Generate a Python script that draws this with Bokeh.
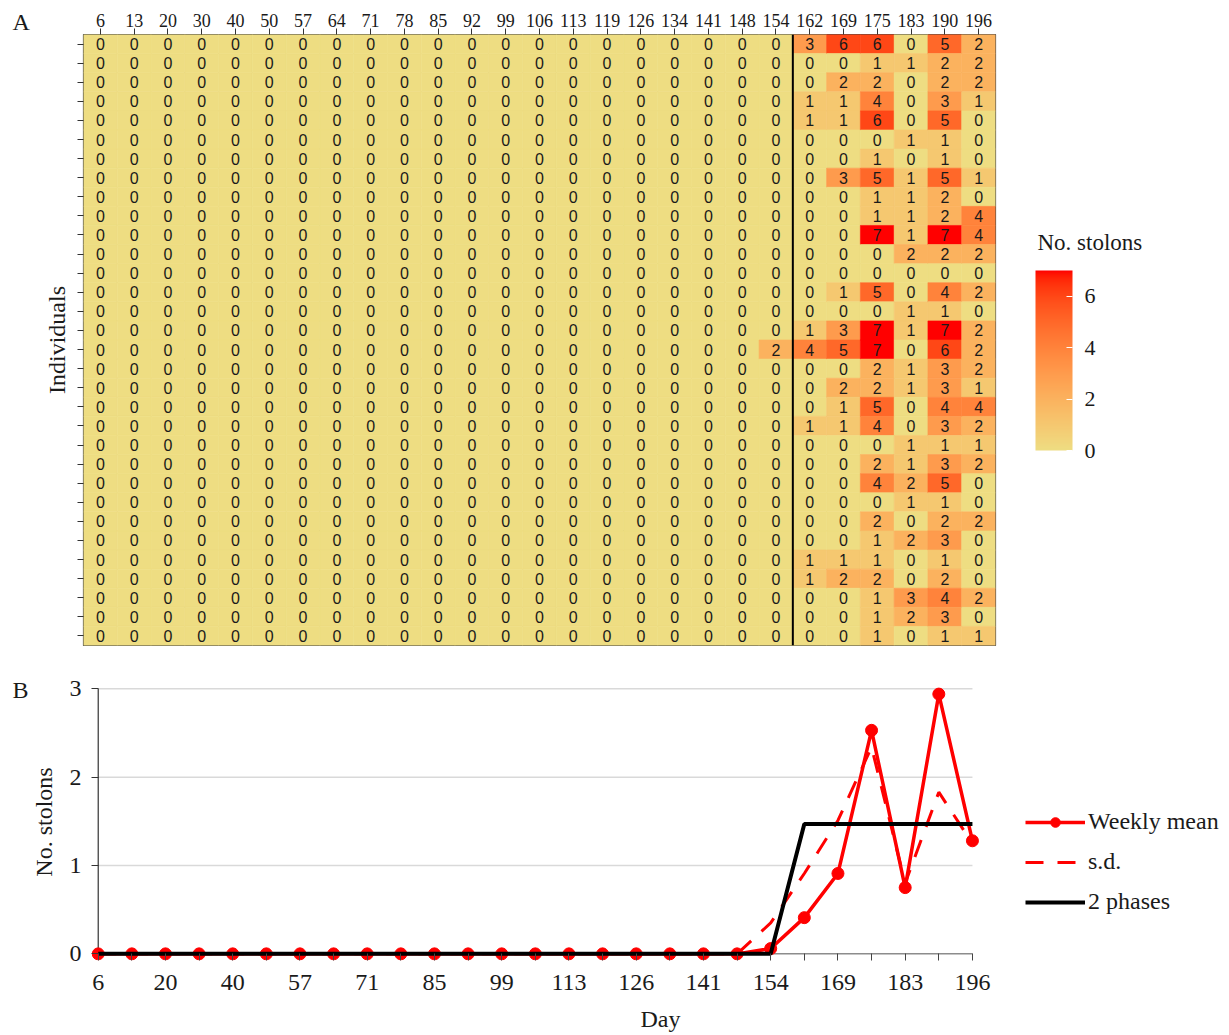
import numpy as np
from bokeh.plotting import figure
from bokeh.models import (FactorRange, Range1d, LinearColorMapper, ColorBar,
                          FixedTicker, Span, Label, Legend, LegendItem, ColumnDataSource)
from bokeh.embed import file_html
from bokeh.resources import INLINE
from bokeh.core.properties import value

# ---------------- data ----------------
days = ["6", "13", "20", "30", "40", "50", "57", "64", "71", "78", "85", "92", "99",
        "106", "113", "119", "126", "134", "141", "148", "154", "162", "169", "175",
        "183", "190", "196"]
individuals = list(range(1, 33))

# days 6 .. 148: every individual has 0 stolons
zero_column = [0] * 32
day_154 = [0, 0, 0, 0, 0, 0, 0, 0, 0, 0, 0, 0, 0, 0, 0, 0, 2, 0, 0, 0, 0, 0, 0, 0, 0, 0, 0, 0, 0, 0, 0, 0]
day_162 = [3, 0, 0, 1, 1, 0, 0, 0, 0, 0, 0, 0, 0, 0, 0, 1, 4, 0, 0, 0, 1, 0, 0, 0, 0, 0, 0, 1, 1, 0, 0, 0]
day_169 = [6, 0, 2, 1, 1, 0, 0, 3, 0, 0, 0, 0, 0, 1, 0, 3, 5, 0, 2, 1, 1, 0, 0, 0, 0, 0, 0, 1, 2, 0, 0, 0]
day_175 = [6, 1, 2, 4, 6, 0, 1, 5, 1, 1, 7, 0, 0, 5, 0, 7, 7, 2, 2, 5, 4, 0, 2, 4, 0, 2, 1, 1, 2, 1, 1, 1]
day_183 = [0, 1, 0, 0, 0, 1, 0, 1, 1, 1, 1, 2, 0, 0, 1, 1, 0, 1, 1, 0, 0, 1, 1, 2, 1, 0, 2, 0, 0, 3, 2, 0]
day_190 = [5, 2, 2, 3, 5, 1, 1, 5, 2, 2, 7, 2, 0, 4, 1, 7, 6, 3, 3, 4, 3, 1, 3, 5, 1, 2, 3, 1, 2, 4, 3, 1]
day_196 = [2, 2, 2, 1, 0, 0, 0, 1, 0, 4, 4, 2, 0, 2, 0, 2, 2, 2, 1, 4, 2, 1, 2, 0, 0, 2, 0, 0, 0, 2, 0, 1]

weekly_mean = [0, 0, 0, 0, 0, 0, 0, 0, 0, 0, 0, 0, 0, 0, 0, 0, 0, 0, 0, 0,
               0.06, 0.41, 0.91, 2.53, 0.75, 2.94, 1.28]
weekly_sd = [0, 0, 0, 0, 0, 0, 0, 0, 0, 0, 0, 0, 0, 0, 0, 0, 0, 0, 0, 0,
             0.35, 0.91, 1.51, 2.34, 0.80, 1.83, 1.25]
two_phases = [0, 0, 0, 0, 0, 0, 0, 0, 0, 0, 0, 0, 0, 0, 0, 0, 0, 0, 0, 0,
              0, 1.47, 1.47, 1.47, 1.47, 1.47, 1.47]

x_tick_days = ["6", "20", "40", "57", "71", "85", "99", "113", "126", "141", "154", "169", "183", "196"]
y_ticks_b = [0, 1, 2, 3]
colorbar_ticks = [0, 2, 4, 6]

late_columns = {"154": day_154, "162": day_162, "169": day_169, "175": day_175,
                "183": day_183, "190": day_190, "196": day_196}

# ---------------- palette (Lab interpolation, like ggplot gradient) ----------------
M = np.array([[0.4124, 0.3576, 0.1805], [0.2126, 0.7152, 0.0722], [0.0193, 0.1192, 0.9505]])
WHITE = np.array([0.95047, 1.0, 1.08883])


def hex_rgb(h):
    h = h.lstrip("#")
    return np.array([int(h[i:i + 2], 16) for i in (0, 2, 4)], dtype=float)


def rgb_to_lab(rgb):
    c = rgb / 255.0
    c = np.where(c <= 0.04045, c / 12.92, ((c + 0.055) / 1.055) ** 2.4)
    xyz = (M @ c) / WHITE
    f = np.where(xyz > 0.008856, np.cbrt(xyz), 7.787 * xyz + 16 / 116)
    return np.array([116 * f[1] - 16, 500 * (f[0] - f[1]), 200 * (f[1] - f[2])])


def lab_to_hex(lab):
    L, a, b = lab
    fy = (L + 16) / 116
    f = np.array([fy + a / 500, fy, fy - b / 200])
    xyz = np.where(f ** 3 > 0.008856, f ** 3, (f - 16 / 116) / 7.787) * WHITE
    c = np.linalg.inv(M) @ xyz
    c = np.clip(c, 0, 1)
    c = np.where(c <= 0.0031308, 12.92 * c, 1.055 * c ** (1 / 2.4) - 0.055)
    c = np.clip(c, 0, 1)
    return "#%02x%02x%02x" % tuple(int(round(v * 255)) for v in c)


lab_lo = rgb_to_lab(hex_rgb("#EEDD82"))
lab_hi = rgb_to_lab(hex_rgb("#FF0000"))
palette = [lab_to_hex(lab_lo + (lab_hi - lab_lo) * t) for t in np.linspace(0, 1, 256)]
mapper = LinearColorMapper(palette=palette, low=0, high=7)

# ---------------- heatmap ----------------
xs, ys, vals = [], [], []
for d in days:
    col = late_columns.get(d, zero_column)
    for ind, v in zip(individuals, col):
        xs.append(d)
        ys.append(ind)
        vals.append(v)
src = ColumnDataSource(dict(day=xs, row=ys, val=vals, label=[str(v) for v in vals]))

SERIF = "Liberation Serif"
INK = "#1a1a1a"
HA = 660
HB = 375

pA = figure(width=1229, height=HA, x_range=FactorRange(*days),
            y_range=Range1d(len(individuals) + 0.5, 0.5),
            x_axis_location="above", output_backend="svg", toolbar_location=None,
            min_border_left=83, min_border_right=234, min_border_top=34, min_border_bottom=15)
pA.rect(x="day", y="row", width=1, height=1, source=src,
        fill_color={"field": "val", "transform": mapper},
        line_color={"field": "val", "transform": mapper}, line_width=0.6)
pA.text(x="day", y="row", text="label", source=src, text_align="center",
        text_baseline="middle", text_font=value("Liberation Sans"),
        text_font_size="16px", text_color=INK)
pA.add_layout(Span(location=days.index("162"), dimension="height",
                   line_color="black", line_width=2))
pA.xgrid.visible = False
pA.ygrid.visible = False
pA.outline_line_color = "#444444"
pA.outline_line_width = 1.2

xa = pA.xaxis[0]
xa.axis_line_color = None
xa.major_tick_out = 6
xa.major_tick_in = 0
xa.major_tick_line_color = "#333333"
xa.major_label_text_font = SERIF
xa.major_label_text_font_size = "18px"
xa.major_label_text_color = INK
xa.major_label_standoff = 2

ya = pA.yaxis[0]
ya.ticker = FixedTicker(ticks=individuals)
ya.major_label_overrides = {i: "" for i in individuals}
ya.major_label_text_font_size = "1px"
ya.major_label_standoff = 0
ya.axis_line_color = None
ya.major_tick_out = 6
ya.major_tick_in = 0
ya.major_tick_line_color = "#333333"
ya.minor_tick_line_color = None
ya.axis_label = "Individuals"
ya.axis_label_text_font = SERIF
ya.axis_label_text_font_size = "24px"
ya.axis_label_text_font_style = "normal"
ya.axis_label_text_color = INK
ya.axis_label_standoff = 8

cbar = ColorBar(color_mapper=mapper, ticker=FixedTicker(ticks=colorbar_ticks),
                width=37, height=180,
                major_label_text_font=SERIF, major_label_text_font_size="22px",
                major_label_text_color=INK, label_standoff=12,
                major_tick_line_color="white", major_tick_in=6, major_tick_out=0,
                bar_line_color=None, border_line_color=None,
                background_fill_color=None, background_fill_alpha=0,
                padding=0, margin=0, location=(952, 195))
pA.add_layout(cbar)

# text outside the plot frame lives in side panels (not clipped), placed in canvas pixels
pA.add_layout(Label(x=1037, y=242, x_units="canvas", y_units="canvas",
                    text="No. stolons", text_font=SERIF, text_font_size="23px",
                    text_baseline="middle", text_align="left", text_color=INK), "right")
pA.add_layout(Label(x=12, y=8, x_units="canvas", y_units="canvas", text="A",
                    text_font=SERIF, text_font_size="24px",
                    text_baseline="top", text_align="left", text_color=INK), "left")

# ---------------- line chart ----------------
x_idx = list(range(len(days)))
last = len(days) - 1
px_per_day = (972 - 98) / last
x_end = last + (1229 - 972) / px_per_day   # frame reaches the canvas edge (room for legend)
pB = figure(width=1229, height=HB, x_range=Range1d(-0.2, x_end),
            y_range=Range1d(-0.075, 3.06), output_backend="svg", toolbar_location=None,
            min_border_left=91, min_border_right=0, min_border_top=23, min_border_bottom=75)
pB.outline_line_color = None
pB.xgrid.visible = False
pB.ygrid.visible = False

# grid lines and axis base lines, bounded to the data extent
pB.segment(x0=[0] * 3, y0=y_ticks_b[1:], x1=[last] * 3, y1=y_ticks_b[1:],
           line_color="#d9d9d9", line_width=1.5)
pB.segment(x0=[0], y0=[0], x1=[last], y1=[0], line_color="#8c8c8c", line_width=1.5)
pB.segment(x0=[0], y0=[0], x1=[0], y1=[y_ticks_b[-1]], line_color="#333333", line_width=1.2)

r_sd = pB.line(x_idx, weekly_sd, line_color="red", line_width=3, line_dash="18 14")
r_mean = pB.line(x_idx, weekly_mean, line_color="red", line_width=3.5)
r_pts = pB.scatter(x_idx, weekly_mean, size=12, fill_color="red", line_color="red")
r_ph = pB.line(x_idx, two_phases, line_color="black", line_width=4)

bx = pB.xaxis[0]
bx.ticker = FixedTicker(ticks=x_idx)
bx.major_label_overrides = {i: (d if d in x_tick_days else "") for i, d in enumerate(days)}
bx.axis_line_color = None
bx.major_tick_line_color = "#444444"
bx.major_tick_out = 0
bx.major_tick_in = 7
bx.minor_tick_line_color = None
bx.major_label_text_font = SERIF
bx.major_label_text_font_size = "24px"
bx.major_label_text_color = INK
bx.major_label_standoff = 14
bx.axis_label = "Day"
bx.axis_label_text_font = SERIF
bx.axis_label_text_font_size = "24px"
bx.axis_label_text_font_style = "normal"
bx.axis_label_text_color = INK
bx.axis_label_standoff = 13

by = pB.yaxis[0]
by.ticker = FixedTicker(ticks=y_ticks_b)
by.axis_line_color = None
by.major_tick_line_color = "#333333"
by.major_tick_out = 0
by.major_tick_in = 7
by.minor_tick_line_color = None
by.major_label_text_font = SERIF
by.major_label_text_font_size = "24px"
by.major_label_text_color = INK
by.major_label_standoff = 10
by.axis_label = "No. stolons"
by.axis_label_text_font = SERIF
by.axis_label_text_font_size = "24px"
by.axis_label_text_font_style = "normal"
by.axis_label_text_color = INK
by.axis_label_standoff = 10

legend = Legend(items=[LegendItem(label="Weekly mean", renderers=[r_mean, r_pts]),
                       LegendItem(label="s.d.", renderers=[r_sd]),
                       LegendItem(label="2 phases", renderers=[r_ph])],
                location=(934, 45), glyph_width=60, glyph_height=24, label_height=24,
                spacing=13, label_standoff=3, padding=0, margin=0,
                border_line_alpha=0, background_fill_alpha=0,
                label_text_font=SERIF, label_text_font_size="24px",
                label_text_color=INK)
pB.add_layout(legend)

pB.add_layout(Label(x=12, y=16, x_units="canvas", y_units="canvas", text="B",
                    text_font=SERIF, text_font_size="24px",
                    text_baseline="top", text_align="left", text_color=INK), "left")

open("out.html", "w").write(file_html([pA, pB], INLINE))
